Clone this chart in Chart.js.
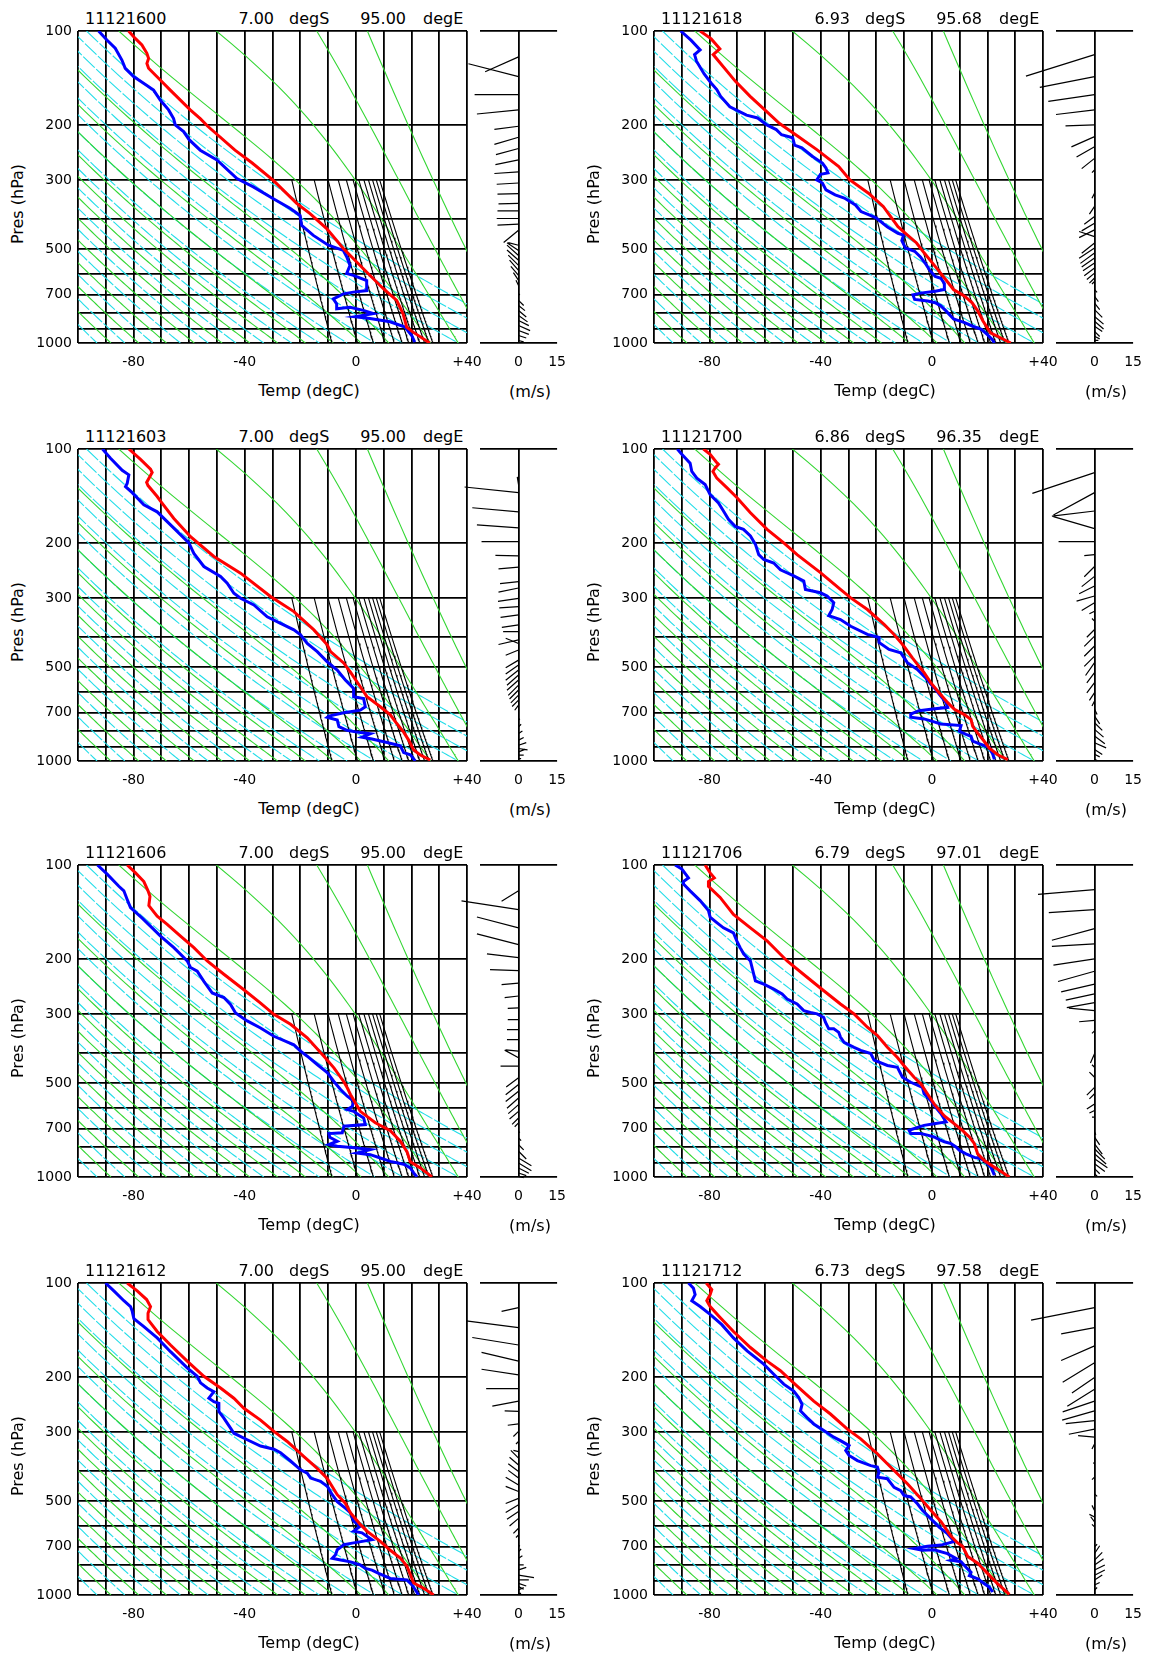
<!DOCTYPE html>
<html>
<head>
<meta charset="utf-8">
<script src="https://cdn.jsdelivr.net/npm/chart.js@4.4.1/dist/chart.umd.min.js"></script>
<style>
  body { margin: 0; background: #fff; width: 1158px; height: 1659px; position: relative; overflow: hidden;
         font-family: "DejaVu Sans", sans-serif; }
  .panel { position: absolute; width: 577px; height: 418px; }
  .panel canvas { position: absolute; top: 0; }
  .txt { position: absolute; font-size: 16px; line-height: 1; color: #000; white-space: nowrap; }
</style>
</head>
<body>
<script>
// ============================================================
// SOUNDINGS 11121600 .. 11121712 (temp / dewpoint / wind)
// ============================================================

const STAMPS = ["11121600", "11121618", "11121603", "11121700", "11121606", "11121706", "11121612", "11121712"];
const LATS   = ["7.00", "6.93", "7.00", "6.86", "7.00", "6.79", "7.00", "6.73"];
const LONS   = ["95.00", "95.68", "95.00", "96.35", "95.00", "97.01", "95.00", "97.58"];

// axes
const TEMP_GRID   = [-100, -90, -80, -70, -60, -50, -40, -30, -20, -10, 0, 10, 20, 30, 40];
const TEMP_LABELS = { "-80": "-80", "-40": "-40", "0": "0", "40": "+40" };
const PRES_GRID   = [100, 200, 300, 400, 500, 600, 700, 800, 900, 1000];
const PRES_LABELS = [100, 200, 300, 500, 700, 1000];
const WIND_TICKS  = [-15, 0, 15];
const WIND_LABELS = { "0": "0", "15": "15" };

// background lines
const DRY_THETA_K   = [180, 190, 200, 210, 220, 230, 240, 250, 260, 270, 280, 290, 300, 310, 320, 330, 340];
const MOIST_THW_K   = [185, 195, 205, 215, 225, 235, 245, 255, 265, 275, 285, 300, 310, 320, 330];
const MIX_RATIO_GKG = [2, 4, 6, 8, 10, 12, 14, 16, 18, 20, 22, 24];

// ---------- profiles [hPa, degC] ----------
const t_11121600 = [[100,-81.8],[105.6,-79.4],[110.9,-77.0],[117.9,-75.2],[122.4,-74.6],[127,-75.2],[131.7,-74.6],[143.6,-70.4],[154.7,-66.8],[179,-59.6],[191,-56.0],[202,-53.3],[241,-43.5],[265,-37.3],[301,-29.7],[357,-21.3],[385,-16.5],[430,-10.5],[498,-4.5],[578,2.7],[670,9.9],[730,14.7],[806,17.0],[890,18.3],[923,20.6],[1000,26.6]];
const td_11121600 = [[100,-92.6],[106.9,-89.6],[113.6,-86.6],[123.9,-84.2],[131.7,-83.0],[140,-80.0],[147,-76.4],[154.7,-72.8],[166.5,-70.4],[179,-67.4],[190.8,-65.6],[200,-65],[210,-62],[223,-60],[241,-56],[259,-50],[297,-42.8],[316,-36.9],[345,-29.7],[370,-23.7],[390,-20.1],[420,-19.5],[452,-15.3],[486,-9.9],[505,-4.5],[529,-3.3],[564,-2.1],[599,-3.3],[607,-0.9],[631,3.9],[679,3.9],[687,-0.9],[696,-4.5],[722,-8.1],[750,-6.9],[777,-6.9],[768,-2.1],[786,2.7],[805,6.3],[824,-0.3],[834,5.1],[855,12.3],[889,17.7],[946,20.1],[993,21.2]];

const t_11121618 = [[100,-83.4],[106,-79.4],[114,-76.3],[119,-78.7],[125,-76.7],[145,-70.7],[162,-65.4],[177,-60.7],[198,-54.8],[218,-48.1],[240,-41.4],[272,-33.5],[300,-29.5],[331,-22.8],[365,-17.5],[424,-12.2],[445,-9.5],[478,-5.5],[514,-2.8],[568,1.2],[628,5.1],[674,7.8],[708,11.8],[743,14.5],[789,16.5],[850,18.4],[928,21.1],[1000,28.4]];
const td_11121618 = [[100,-90.4],[107,-86.7],[115,-83.4],[119,-85.4],[125,-84.7],[137,-82.0],[147,-79.4],[154,-77.4],[162,-76.0],[175,-72.7],[181,-69.4],[186,-66.7],[190,-62.7],[200,-59.4],[207,-56.0],[215,-54.1],[220,-50.1],[232,-49.4],[237,-46.8],[253,-42.8],[265,-39.4],[275,-38.1],[285,-37.4],[288,-40.1],[300,-41.4],[307,-39.4],[323,-38.1],[335,-34.8],[343,-31.5],[361,-27.5],[379,-25.5],[388,-22.8],[397,-20.1],[424,-16.1],[445,-12.2],[451,-10.2],[470,-10.8],[496,-9.5],[508,-6.2],[530,-4.1],[560,-2.1],[584,-0.8],[612,1.2],[620,3.2],[644,4.5],[674,4.5],[683,1.2],[692,-4.1],[701,-6.8],[725,-6.2],[734,-1.5],[743,1.2],[760,3.2],[789,5.1],[838,7.8],[860,11.8],[882,14.5],[904,17.8],[937,19.8],[976,21.8],[1000,22.5]];

const t_11121603 = [[100,-81.7],[108,-77.5],[116,-73.9],[119,-73.3],[128,-75.3],[131,-74.8],[142,-71.5],[147,-70.3],[167,-65.5],[191,-59.5],[221,-51.1],[250,-41.5],[297,-30.7],[332,-22.3],[380,-15.1],[424,-10.3],[446,-9.1],[485,-4.4],[518,-2.0],[578,1.6],[622,4.0],[670,8.8],[711,12.4],[760,14.8],[808,17.2],[857,19.0],[922,20.8],[957,23.2],[993,26.8]];
const td_11121603 = [[100,-91.2],[107,-88.3],[117,-84.1],[121,-81.7],[129,-82.3],[132,-82.9],[138,-80.5],[151,-76.3],[159,-71.5],[175,-66.7],[200,-60.1],[216,-58.3],[238,-54.7],[256,-48.7],[269,-46.3],[290,-43.9],[301,-41.5],[316,-36.7],[345,-31.9],[362,-27.1],[380,-22.3],[394,-19.9],[420,-17.5],[446,-13.9],[481,-10.3],[511,-6.7],[550,-3.8],[585,-0.8],[622,-0.8],[631,2.8],[670,3.4],[687,1.6],[700,-4.4],[718,-9.7],[725,-10.3],[739,-6.7],[776,-6.1],[797,-3.2],[808,0.4],[818,5.2],[839,2.2],[850,5.8],[872,11.2],[894,16.0],[940,17.2],[955,19.6],[1000,21.4]];

const t_11121700 = [[100,-82.2],[104,-79.8],[110,-77.6],[112,-76.8],[115,-78.0],[118,-78.8],[124,-77.4],[133,-73.8],[143,-70.2],[160,-65.3],[181,-59.3],[200,-53.3],[218,-48.5],[249,-40.1],[282,-32.9],[300,-29.2],[327,-23.2],[365,-17.2],[393,-13.6],[429,-10.0],[467,-7.0],[490,-5.2],[521,-2.8],[561,-0.4],[604,2.6],[650,5.7],[683,8.1],[710,11.7],[737,14.1],[774,14.7],[814,16.5],[866,18.9],[910,20.7],[955,23.7],[990,27.3]];
const td_11121700 = [[100,-91.6],[104,-90.0],[111,-87.0],[118,-86.4],[124,-84.6],[130,-81.6],[140,-79.8],[149,-76.8],[158,-75.0],[168,-73.2],[177,-70.8],[181,-67.8],[190,-65.3],[202,-63.5],[218,-62.3],[226,-60.5],[232,-56.9],[244,-54.5],[255,-49.7],[265,-46.1],[282,-45.5],[289,-40.1],[296,-37.7],[311,-35.3],[327,-35.9],[342,-37.1],[352,-32.9],[370,-29.2],[393,-23.2],[402,-19.0],[417,-19.0],[439,-15.4],[450,-11.2],[484,-8.8],[509,-5.2],[542,-2.2],[582,0.8],[619,3.2],[650,5.1],[673,5.7],[682,-0.4],[690,-4.6],[707,-7.6],[724,-7.6],[733,-2.8],[749,0.8],[761,3.2],[770,10.5],[803,9.9],[822,12.3],[833,14.1],[863,14.7],[884,17.7],[905,20.7],[950,21.9],[988,22.5]];

const t_11121606 = [[100,-82.3],[106,-79.3],[113,-76.3],[121,-74.8],[126,-74.1],[135,-74.5],[146,-71.5],[155,-67.9],[169,-63.1],[184,-58.3],[203,-53.5],[224,-47.5],[251,-40.3],[277,-34.3],[301,-29.5],[324,-23.5],[358,-17.5],[410,-11.5],[447,-7.9],[494,-4.4],[518,-3.1],[545,-1.9],[616,1.6],[670,7.0],[711,12.4],[768,16.0],[829,18.4],[893,19.6],[935,23.2],[1000,27.4]];
const td_11121606 = [[100,-93.0],[107,-89.5],[117,-85.3],[121,-83.5],[129,-82.3],[137,-81.1],[148,-76.9],[169,-70.3],[184,-65.5],[203,-60.7],[213,-59.5],[219,-57.1],[236,-54.7],[257,-51.7],[266,-47.5],[280,-45.1],[298,-43.3],[316,-39.1],[333,-34.3],[354,-29.5],[377,-22.3],[395,-19.9],[410,-17.5],[436,-13.9],[463,-10.3],[494,-7.9],[524,-5.5],[551,-3.1],[571,-0.8],[594,-1.3],[608,-3.1],[616,-0.8],[632,1.0],[647,2.8],[679,3.4],[687,-4.3],[722,-4.9],[726,-9.7],[746,-9.4],[768,-6.7],[787,-9.7],[797,-6.7],[801,-3.7],[808,0.4],[817,5.2],[838,0.4],[848,5.2],[869,8.8],[891,12.4],[910,17.2],[935,19.6],[970,20.8],[1000,22.0]];

const t_11121706 = [[100,-81.6],[106,-79.8],[110,-78.3],[113,-80.4],[117,-80.4],[127,-76.2],[144,-71.4],[159,-65.3],[175,-59.3],[203,-52.1],[229,-44.9],[253,-38.9],[279,-32.9],[300,-28.0],[331,-23.2],[352,-19.6],[384,-16.0],[414,-12.4],[440,-10.0],[479,-6.4],[502,-4.0],[541,-1.6],[583,0.8],[637,4.5],[676,8.1],[710,11.1],[744,13.5],[782,15.3],[843,16.5],[886,18.9],[931,22.5],[1000,27.9]];
const td_11121706 = [[100,-92.4],[103,-90.0],[110,-87.6],[113,-89.4],[115,-89.4],[121,-87.0],[130,-83.4],[140,-80.4],[147,-79.8],[153,-77.4],[159,-75.0],[165,-71.4],[175,-70.2],[184,-69.0],[193,-67.7],[203,-65.3],[224,-64.1],[235,-63.5],[241,-60.5],[250,-56.9],[259,-53.9],[269,-52.1],[279,-48.5],[293,-46.1],[297,-43.7],[300,-41.3],[308,-38.9],[319,-38.3],[335,-37.1],[335,-35.3],[344,-33.5],[356,-32.9],[370,-31.6],[384,-28.0],[393,-25.6],[402,-22.0],[422,-20.8],[439,-16.0],[445,-12.4],[479,-10.6],[497,-7.6],[516,-3.4],[541,-2.8],[569,-0.4],[598,1.4],[627,3.3],[666,5.1],[675,0.8],[683,-2.8],[708,-8.2],[725,-7.6],[725,-4.0],[734,-1.6],[744,0.8],[759,2.7],[771,4.5],[782,6.9],[801,8.7],[821,9.9],[843,12.3],[865,15.3],[874,17.7],[896,19.5],[931,21.3],[986,22.5]];

const t_11121612 = [[100,-82.3],[106,-78.7],[113,-75.3],[119,-73.9],[125,-74.8],[131,-74.8],[143,-71.5],[158,-66.7],[178,-60.7],[199,-54.7],[217,-48.7],[234,-43.9],[252,-40.3],[275,-34.3],[299,-29.5],[322,-24.7],[360,-18.7],[393,-13.9],[423,-10.3],[477,-6.7],[508,-3.8],[546,-1.9],[594,1.6],[624,4.0],[673,8.8],[719,12.4],[761,16.0],[809,18.4],[860,19.6],[915,20.8],[952,24.4],[1000,28.0]];
const td_11121612 = [[100,-90.1],[106,-87.1],[114,-83.5],[119,-81.1],[123,-80.5],[130,-79.9],[138,-76.3],[150,-71.5],[166,-66.7],[187,-60.7],[199,-57.1],[209,-55.9],[217,-53.5],[223,-51.1],[234,-52.9],[240,-51.1],[243,-49.3],[258,-49.3],[271,-47.5],[292,-45.1],[303,-43.9],[318,-39.1],[333,-34.3],[341,-29.5],[350,-27.1],[372,-23.5],[397,-19.9],[407,-17.5],[422,-16.3],[432,-12.7],[448,-10.3],[477,-8.5],[502,-6.7],[527,-3.8],[546,-1.9],[580,-0.8],[602,1.6],[624,-0.8],[632,2.2],[665,5.8],[682,-1.3],[690,-4.3],[716,-6.7],[743,-7.3],[763,-8.5],[772,-5.5],[783,-1.9],[801,1.6],[822,3.4],[832,5.8],[852,8.2],[885,12.4],[895,18.4],[928,20.2],[962,21.4],[1000,22.6]];

const t_11121712 = [[100,-81.2],[105,-79.2],[109,-79.8],[114,-81.0],[119,-79.8],[129,-76.2],[143,-71.4],[161,-65.3],[178,-59.3],[191,-54.5],[214,-48.5],[239,-42.5],[263,-36.5],[294,-30.4],[316,-25.6],[353,-19.6],[399,-13.6],[440,-8.8],[491,-4.0],[535,-0.4],[582,3.3],[648,6.9],[681,9.3],[699,11.1],[752,12.9],[791,16.5],[854,20.1],[921,23.7],[996,27.9]];
const td_11121712 = [[100,-87.6],[104,-85.8],[109,-85.2],[114,-86.4],[119,-83.4],[126,-79.8],[136,-75.6],[150,-71.4],[165,-66.5],[182,-60.5],[196,-56.9],[211,-53.3],[222,-49.7],[233,-47.9],[245,-46.7],[257,-47.3],[270,-44.9],[283,-42.5],[297,-38.9],[312,-35.3],[320,-32.9],[332,-29.8],[344,-31.0],[357,-29.8],[371,-26.8],[385,-22.0],[389,-19.6],[404,-19.0],[419,-19.6],[424,-16.0],[452,-13.6],[463,-11.2],[480,-10.0],[485,-7.6],[510,-5.2],[535,-3.4],[569,-0.4],[606,2.6],[636,5.6],[674,8.1],[692,3.3],[698,-1.6],[710,-6.4],[719,-3.4],[716,0.8],[737,5.6],[763,8.7],[773,6.9],[782,10.5],[815,12.3],[846,14.1],[867,13.5],[888,16.5],[920,18.9],[944,20.7],[978,21.9]];

// ---------- wind sticks: level (hPa), u (m/s), v (m/s) ----------
const wp_11121600 = [121,140,160,179,202,219,238,259,283,307,332,357,377,399,416,435,486,505,524,543,564,585,607,630,654,695,730,758,787,816,847,879,912,946,982];
const wu_11121600 = [-13,-19.5,-17.1,-16.2,-9.4,-9.4,-8.8,-9,-9.4,-8.5,-8.2,-7.8,-8.2,-8.5,-8.2,-5.8,-4,-4.5,-4.5,-4.5,-4,-3.5,-3,-2,-1,0.5,2,2.5,3,3.5,4,4.5,4,3,2];
const wv_11121600 = [-5.8,5,0,-1.6,-1.2,-2.8,-2.4,-1.8,-0.6,-0.5,-0.2,-0.2,0,0,-0.4,-4.8,1,3,4,4,4,4,3.5,3,2,-0.5,-2,-2,-2.5,-2.5,-2,-2,-1.5,-1,-0.5];

const wp_11121618 = [119,140,160,179,200,218,235,256,279,331,365,393,413,434,456,478,496,515,534,554,575,597,619,635,675,709,745,782,822,852,884,918,952,981];
const wu_11121618 = [-26.7,-21.3,-18,-15,-11.3,-9,-7,-5,-1,-1,-2,-4,-5,-6,-6,-5,-6,-5.5,-5,-4.5,-4,-3,-2,-1,1,1.5,2,3,3.5,3.5,3,2,2,1.5];
const wv_11121618 = [-8.4,-4.2,-2.6,-1.8,-0.4,-4,-4,-4,-1,-2,-3,-3,-3,-3,2,-4,-4,-4,-3.5,-3,-3,-2.5,-2,-1,-1,-2,-2.5,-3,-3,-3,-2,-2,-1,0];

const wp_11121603 = [130,138,159,179,198,220,239,266,279,301,320,340,366,385,409,420,441,475,492,511,530,550,571,592,615,638,662,739,777,816,857,890,912,935,958,982];
const wu_11121603 = [-0.5,-21,-18,-16.2,-14.4,-9,-7.8,-7.2,-7.8,-8,-7.5,-7,-6.5,-6,-7.8,-5,-5,-5,-5,-5,-4.5,-4.5,-4,-3.5,-3,-2.5,-1.5,0.5,1,1.5,2,3,3.5,2.5,2,1];
const wv_11121603 = [3,2.2,1.6,1.2,0,0.2,-0.7,-0.8,-1.6,-1.2,-0.5,-1,-1,0,-1.8,2,-2,-3,-3.5,-4,-4,-4,-4,-3.5,-3,-2.5,-2,0.5,1,1,1,1,-0.5,1,0,0];

const wp_11121700 = [119,138,158,180,198,218,238,256,275,296,311,331,356,379,398,428,461,484,521,561,604,642,683,718,754,792,832,874,918,952,988];
const wu_11121700 = [-24.2,-16,-16.6,-16,-14,-4,-4,-5,-6,-7,-5,-2,-1,-3,-4,-4,-4,-3.5,-3,-3,-2,-1,1,2,3,3.5,4,4.5,3,2,1];
const wv_11121700 = [-8.1,-8.7,-2,4.7,0,-0.4,-4,-4,-3,-2,-3,-1,1,-3,-4,-4,-4,-5,-4,-4,-3,-2,-2,-3,-3,-3,-3,-2,-2,-1,-0.5];

const wp_11121606 = [121,139,159,180,198,218,239,263,287,313,337,363,395,415,441,481,505,531,558,586,616,647,671,714,750,788,827,869,902,936,971,995];
const wu_11121606 = [-6.6,-22.2,-16.2,-16.2,-12.3,-11.1,-6.6,-5.4,-4.2,-4.2,-4.5,-4.5,-5,-5.4,-7,-4.8,-5,-5,-4.5,-4,-3.5,-2.5,-1.5,0.5,1,2,3,5,5,4,3,2];
const wv_11121606 = [-4.1,3.4,4.2,4.2,1.4,0.4,-0.6,-0.6,-0.2,0,0,0,0.5,3,0,-3.6,-4,-4,-4,-3.5,-3,-2.5,-1.5,-0.5,-1,-2,-3,-3,-3,-2,-1,-0.5];

const wp_11121706 = [120,139,160,179,200,219,241,259,276,293,315,340,403,445,479,516,541,583,612,643,718,745,783,812,842,874,907,940,976];
const wu_11121706 = [-22,-17.8,-16.6,-16.6,-16,-14.2,-13,-11.2,-10.8,-10,-6,-1,-1.6,-1,-2,-3,-2,-3,-2,-1,0.5,2,3,4,4.5,5,4,2,1];
const wv_11121706 = [-1.8,-1.2,-4.5,-1,-2.4,-4,-3,-2.4,-2,1,-0.5,-1,-3.6,1,2,-3,-2,-2,-1,0,-1,-3,-4,-4,-4,-3.5,-3,-2,-1];

const wp_11121612 = [120,139,158,178,197,218,239,258,283,299,322,347,364,383,402,422,444,466,490,514,540,568,611,642,700,726,763,801,831,863,895,918,940,964,988];
const wu_11121612 = [-6.6,-20.4,-18,-14.4,-14.4,-12.6,-10.2,-5.4,-4.2,-2,-1,-2,-3,-3.5,-4,-4,-5,-5,-5,-5,-4.5,-3.5,-2,-1,0.5,1,1.5,2,3,6,4,3,2,2,1];
const wv_11121612 = [-1.4,2.6,2.9,3.4,2.2,0,-2,0.2,-0.5,-2,-1,0.5,3,3,3,3,3,2,-2,-3,-3,-3,-2,-1,0.5,1,1,0,1,-1,0,-1,-1,1,0];

const wp_11121712 = [120,139,159,180,201,219,239,257,276,294,312,328,380,419,474,536,562,583,605,701,736,773,802,832,864,896,929,964];
const wu_11121712 = [-24.7,-13,-13,-12.4,-8.8,-10.6,-12.4,-12.6,-11.2,-10,-6.4,-1,-0.5,-1,1,-1,-2,-1.5,-1,1,2,3,3.5,4,4,3,2,1];
const wv_11121712 = [-4.8,-2.4,-5.7,-7.6,-6,-6.6,-4.2,-3.6,-1.2,-2,0.6,-2,0.5,-1,-1,2,1,2,1,1,3,3,2.5,2,2,2,1,1];

const TEMPS = [t_11121600, t_11121618, t_11121603, t_11121700, t_11121606, t_11121706, t_11121612, t_11121712];
const DEWPS = [td_11121600, td_11121618, td_11121603, td_11121700, td_11121606, td_11121706, td_11121612, td_11121712];
const WIND_P = [wp_11121600, wp_11121618, wp_11121603, wp_11121700, wp_11121606, wp_11121706, wp_11121612, wp_11121712];
const WIND_U = [wu_11121600, wu_11121618, wu_11121603, wu_11121700, wu_11121606, wu_11121706, wu_11121612, wu_11121712];
const WIND_V = [wv_11121600, wv_11121618, wv_11121603, wv_11121700, wv_11121606, wv_11121706, wv_11121612, wv_11121712];

// ============================================================
// thermodynamic background (dry / moist adiabats, mixing ratio)
// ============================================================
const RD = 287.04, CP = 1005.7, LV = 2.501e6, EPS = 0.622;
const satVap = tc => 6.112 * Math.exp(17.67 * tc / (tc + 243.5));

function levels(p0, p1, dp) {
    const out = [];
    for (let p = p0; p <= p1 + 0.01; p += dp) out.push(p);
    return out;
}

function dryAdiabat(thetaK) {
    return levels(100, 1000, 10).map(p => ({ x: thetaK * Math.pow(p / 1000, RD / CP) - 273.15, y: p }));
}

// equivalent potential temperature, simple form
function thetaE(p, t) {
    const es = satVap(t - 273.15);
    if (es > 0.8 * p) return Infinity;
    const rs = EPS * es / (p - es);
    return t * Math.pow(1000 / p, RD / CP) * Math.exp(LV * rs / (CP * t));
}

function moistAdiabat(thwK) {
    const te = thetaE(1000, thwK);
    return levels(100, 1000, 10).map(p => {
        let lo = 140, hi = 380;
        for (let k = 0; k < 50; k++) {
            const mid = (lo + hi) / 2;
            if (thetaE(p, mid) > te) hi = mid; else lo = mid;
        }
        return { x: (lo + hi) / 2 - 273.15, y: p };
    });
}

function mixingLine(w) {
    return levels(300, 1000, 10).map(p => {
        const e = w * p / (622 + w);
        const l = Math.log(e / 6.112);
        return { x: 243.5 * l / (17.67 - l), y: p };
    });
}

const DRY_LINES = DRY_THETA_K.map(dryAdiabat);
const MOIST_LINES = MOIST_THW_K.map(moistAdiabat);
const MIX_LINES = MIX_RATIO_GKG.map(mixingLine);

// ============================================================
// layout
// ============================================================
const COL_OFF = [0, 576];
const ROW_OFF = [0, 418, 834, 1252];
const FONT = "DejaVu Sans";
const GRID_W = 1.8;

function addText(box, str, css) {
    const d = document.createElement("div");
    d.className = "txt";
    d.textContent = str;
    Object.assign(d.style, css);
    box.appendChild(d);
    return d;
}

function tickFont() { return { family: FONT, size: 14 }; }

function windSticks(pList, uList, vList) {
    return {
        id: "windSticks",
        afterDraw(chart) {
            const xs = chart.scales.x, ys = chart.scales.y, ctx = chart.ctx;
            const unit = xs.getPixelForValue(1) - xs.getPixelForValue(0);
            const x0 = xs.getPixelForValue(0);
            ctx.save();
            ctx.strokeStyle = "#000";
            ctx.lineWidth = 1.2;
            ctx.beginPath();
            pList.forEach((p, i) => {
                const y0 = ys.getPixelForValue(p);
                ctx.moveTo(x0, y0);
                ctx.lineTo(xs.getPixelForValue(uList[i]), y0 - vList[i] * unit);
            });
            ctx.stroke();
            ctx.restore();
        }
    };
}

function buildPanel(i) {
    const col = i % 2, row = Math.floor(i / 2);
    const box = document.createElement("div");
    box.className = "panel";
    box.style.left = COL_OFF[col] + "px";
    box.style.top = ROW_OFF[row] + "px";
    document.body.appendChild(box);

    // header + axis titles
    addText(box, STAMPS[i], { left: "85px", top: "11px" });
    addText(box, LATS[i], { right: "303px", top: "11px" });
    addText(box, "degS", { left: "289px", top: "11px" });
    addText(box, LONS[i], { right: "171px", top: "11px" });
    addText(box, "degE", { left: "423px", top: "11px" });
    addText(box, "Temp (degC)", { left: "309px", top: "383px", transform: "translateX(-50%)" });
    addText(box, "(m/s)", { left: "530px", top: "384px", transform: "translateX(-50%)" });
    addText(box, "Pres (hPa)", { left: "18px", top: "204px", transform: "translate(-50%,-50%) rotate(-90deg)" });

    // ---- main diagram ----
    const c1 = document.createElement("canvas");
    c1.width = 500; c1.height = 380;
    c1.style.left = "0px";
    box.appendChild(c1);

    const line = (data, color, width, order, dash) => ({
        data, borderColor: color, borderWidth: width, order, borderDash: dash || [],
        pointRadius: 0, tension: 0, fill: false
    });

    const datasets = [
        line(TEMPS[i].map(([p, t]) => ({ x: t, y: p })), "#ff0000", 3, 0),
        line(DEWPS[i].map(([p, t]) => ({ x: t, y: p })), "#0000ff", 3, 1),
        ...MIX_LINES.map(d => line(d, "#000000", 1.1, 2)),
        ...MOIST_LINES.map(d => line(d, "#33d633", 1.1, 3)),
        ...DRY_LINES.map(d => line(d, "#22dde8", 1.1, 4, [16, 2]))
    ];

    new Chart(c1, {
        type: "line",
        data: { datasets },
        options: {
            responsive: false, animation: false, events: [],
            layout: { padding: { left: 18, top: 31, right: 33, bottom: 7 } },
            plugins: { legend: { display: false }, tooltip: { enabled: false } },
            scales: {
                x: {
                    type: "linear", min: -100, max: 40,
                    afterBuildTicks: s => { s.ticks = TEMP_GRID.map(v => ({ value: v })); },
                    afterFit: s => { s.height = 30; },
                    grid: { color: "#000", lineWidth: GRID_W, drawTicks: false },
                    border: { display: false },
                    ticks: { autoSkip: false, maxRotation: 0, padding: 11, color: "#000", font: tickFont(),
                             callback: v => TEMP_LABELS[v] ?? "" }
                },
                y: {
                    type: "logarithmic", reverse: true, min: 100, max: 1000,
                    afterBuildTicks: s => { s.ticks = PRES_GRID.map(v => ({ value: v })); },
                    afterFit: s => { s.width = 60; },
                    grid: { color: "#000", lineWidth: GRID_W, drawTicks: false },
                    border: { display: false },
                    ticks: { autoSkip: false, padding: 6, color: "#000", font: tickFont(),
                             callback: v => PRES_LABELS.includes(v) ? String(v) : "" }
                }
            }
        }
    });

    // ---- wind sticks ----
    const c2 = document.createElement("canvas");
    c2.width = 177; c2.height = 380;
    c2.style.left = "400px";
    box.appendChild(c2);

    new Chart(c2, {
        type: "line",
        data: { datasets: [] },
        options: {
            responsive: false, animation: false, events: [],
            layout: { padding: { left: 80, top: 31, right: 14, bottom: 7 } },
            plugins: { legend: { display: false }, tooltip: { enabled: false } },
            scales: {
                x: {
                    type: "linear", min: -15, max: 15,
                    afterBuildTicks: s => { s.ticks = WIND_TICKS.map(v => ({ value: v })); },
                    afterFit: s => { s.height = 30; },
                    grid: { color: c => (c.tick && c.tick.value === 0 ? "#000" : "rgba(0,0,0,0)"),
                            lineWidth: GRID_W, drawTicks: false },
                    border: { display: false },
                    ticks: { autoSkip: false, maxRotation: 0, padding: 11, color: "#000", font: tickFont(),
                             callback: v => WIND_LABELS[v] ?? "" }
                },
                y: {
                    type: "logarithmic", reverse: true, min: 100, max: 1000,
                    afterBuildTicks: s => { s.ticks = [100, 1000].map(v => ({ value: v })); },
                    afterFit: s => { s.width = 0; },
                    grid: { color: "#000", lineWidth: GRID_W, drawTicks: false },
                    border: { display: false },
                    ticks: { display: false }
                }
            }
        },
        plugins: [windSticks(WIND_P[i], WIND_U[i], WIND_V[i])]
    });
}

for (let i = 0; i < STAMPS.length; i++) buildPanel(i);
</script>
</body>
</html>
